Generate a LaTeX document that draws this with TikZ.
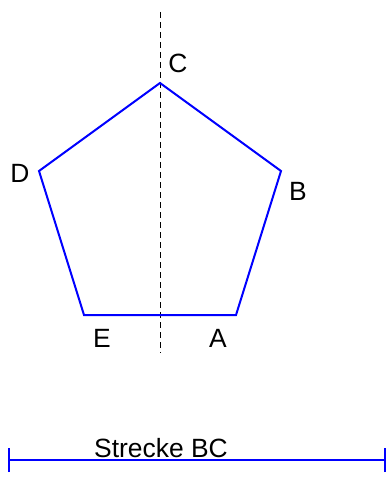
\documentclass[tikz,border=0pt]{standalone}
\usepackage{fontspec}
\setmainfont{Liberation Sans}
\usetikzlibrary{positioning}
\definecolor{edgeblue}{HTML}{0000FF}

\begin{document}
\begin{tikzpicture}[x=0.75pt, y=-0.75pt,
    side/.style={edgeblue, line width=1.5pt},
    axis/.style={black, line width=0.75pt, dash pattern=on 4.5pt off 3pt},
    lbl/.style={font=\fontsize{19.8}{24}\selectfont, inner sep=0pt}]
  \useasboundingbox (0,0) rectangle (389,477);
  % corners of the pentagon
  \coordinate (A) at (236,315);
  \coordinate (B) at (281,171);
  \coordinate (C) at (160,83);
  \coordinate (D) at (39,171);
  \coordinate (E) at (84,315);
  % ends of the axis and of the segment
  \coordinate (top) at (160,12);
  \coordinate (bottom) at (160,353);
  \coordinate (s0) at (9,460);
  \coordinate (s1) at (385,460);
  \draw[axis] (top) -- (bottom);
  \draw[side] (A) -- (B) -- (C) -- (D) -- (E) -- cycle;
  \node[lbl] (labA) at (218,338) {A};
  \node[lbl] (labB) at (298,191) {B};
  \node[lbl] (labC) at (178,63) {C};
  \node[lbl] (labD) at (20,173) {D};
  \node[lbl] (labE) at (102,338) {E};
  % segment BC
  \draw[side] (s0) -- (s1);
  \draw[side] ([yshift=-9]s0) -- ([yshift=9]s0);
  \draw[side] ([yshift=-9]s1) -- ([yshift=9]s1);
  \node[lbl] (labBC) at (161,448) {Strecke BC};
\end{tikzpicture}
\end{document}
